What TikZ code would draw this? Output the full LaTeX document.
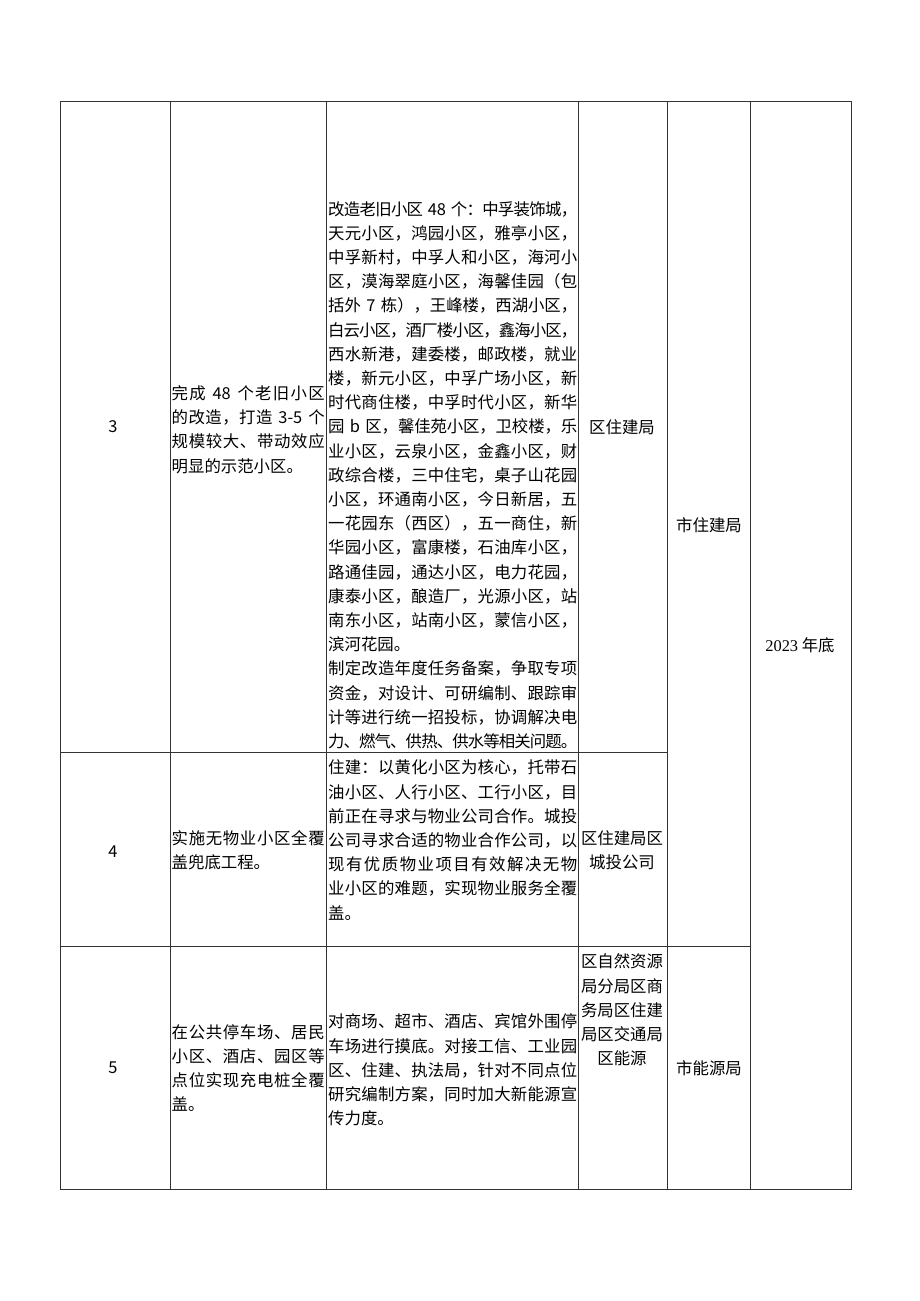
\documentclass[tikz,border=0pt]{standalone}
\usepackage{fontspec}
\setmainfont{Noto Sans CJK SC}
\newfontfamily\serifnum{Liberation Serif}
\setlength{\parindent}{0pt}
% spread one line of characters over the full cell width
\newcommand\spreadgap{\hskip0pt plus 1fil minus 1.2pt}
\def\spreadfirst#1{#1\spreadrest}
\def\spreadrest#1{\ifx\relax#1\else\spreadgap#1\expandafter\spreadrest\fi}
\newcommand\fullline[1]{\leavevmode\hbox to\hsize{\spreadfirst#1\relax}\par}

\begin{document}
\begin{tikzpicture}[x=1pt,y=-1pt,
  rule/.style={draw=black!80,line width=1pt},
  cell/.style={inner sep=0pt,font=\fontsize{16.4}{24.2}\selectfont},
  para/.style={cell,anchor=west,align=left,text width=#1},
  mid/.style={cell,align=center}]
\useasboundingbox (0,0) rectangle (920,1301);
% table rules
\draw[rule] (60,101) rectangle (851,1189);
\foreach \x in {170,326,578,667,750}
  \draw[rule] (\x,101) -- (\x,1189);
\draw[rule] (60,752) -- (667,752);
\draw[rule] (60,946) -- (750,946);
% row 3
\node[mid] (no3) at (113,427) {3};
\node[para=153] (goal3) at (171.5,429.5) {\fullline{完成{\ 48\ }个老旧小区}
\fullline{的改造，打造{\ 3-5\ }个}
\fullline{规模较大、带动效应}
明显的示范小区。};
\node[para=249] (work3) at (328,475) {\fullline{改造老旧小区{\ 48\ }个：中孚装饰城，}
\fullline{天元小区，鸿园小区，雅亭小区，}
\fullline{中孚新村，中孚人和小区，海河小}
\fullline{区，漠海翠庭小区，海馨佳园（包}
\fullline{括外{\ 7\ }栋），王峰楼，西湖小区，}
\fullline{白云小区，酒厂楼小区，鑫海小区，}
\fullline{西水新港，建委楼，邮政楼，就业}
\fullline{楼，新元小区，中孚广场小区，新}
\fullline{时代商住楼，中孚时代小区，新华}
\fullline{园{\ b\ }区，馨佳苑小区，卫校楼，乐}
\fullline{业小区，云泉小区，金鑫小区，财}
\fullline{政综合楼，三中住宅，桌子山花园}
\fullline{小区，环通南小区，今日新居，五}
\fullline{一花园东（西区），五一商住，新}
\fullline{华园小区，富康楼，石油库小区，}
\fullline{路通佳园，通达小区，电力花园，}
\fullline{康泰小区，酿造厂，光源小区，站}
\fullline{南东小区，站南小区，蒙信小区，}
滨河花园。\par
\fullline{制定改造年度任务备案，争取专项}
\fullline{资金，对设计、可研编制、跟踪审}
\fullline{计等进行统一招投标，协调解决电}
\fullline{力、燃气、供热、供水等相关问题。}};
\node[mid] (unit3) at (622,427) {区住建局};
\node[mid] (lead34) at (709,525) {市住建局};
\node[mid] (due) at (800,645) {{\serifnum 2023} 年底};
% row 4
\node[mid] (no4) at (113,852) {4};
\node[para=153] (goal4) at (171.5,850) {\fullline{实施无物业小区全覆}
盖兜底工程。};
\node[para=249] (work4) at (328,840) {\fullline{住建：以黄化小区为核心，托带石}
\fullline{油小区、人行小区、工行小区，目}
\fullline{前正在寻求与物业公司合作。城投}
\fullline{公司寻求合适的物业合作公司，以}
\fullline{现有优质物业项目有效解决无物}
\fullline{业小区的难题，实现物业服务全覆}
盖。};
\node[mid] (unit4) at (622,850) {区住建局区\\城投公司};
% row 5
\node[mid] (no5) at (113,1068) {5};
\node[para=153] (goal5) at (171.5,1068) {\fullline{在公共停车场、居民}
\fullline{小区、酒店、园区等}
\fullline{点位实现充电桩全覆}
盖。};
\node[para=249] (work5) at (328,1070) {\fullline{对商场、超市、酒店、宾馆外围停}
\fullline{车场进行摸底。对接工信、工业园}
\fullline{区、住建、执法局，针对不同点位}
\fullline{研究编制方案，同时加大新能源宣}
传力度。};
\node[mid] (unit5) at (622,1010) {区自然资源\\局分局区商\\务局区住建\\局区交通局\\区能源};
\node[mid] (lead5) at (709,1068) {市能源局};
\end{tikzpicture}
\end{document}
